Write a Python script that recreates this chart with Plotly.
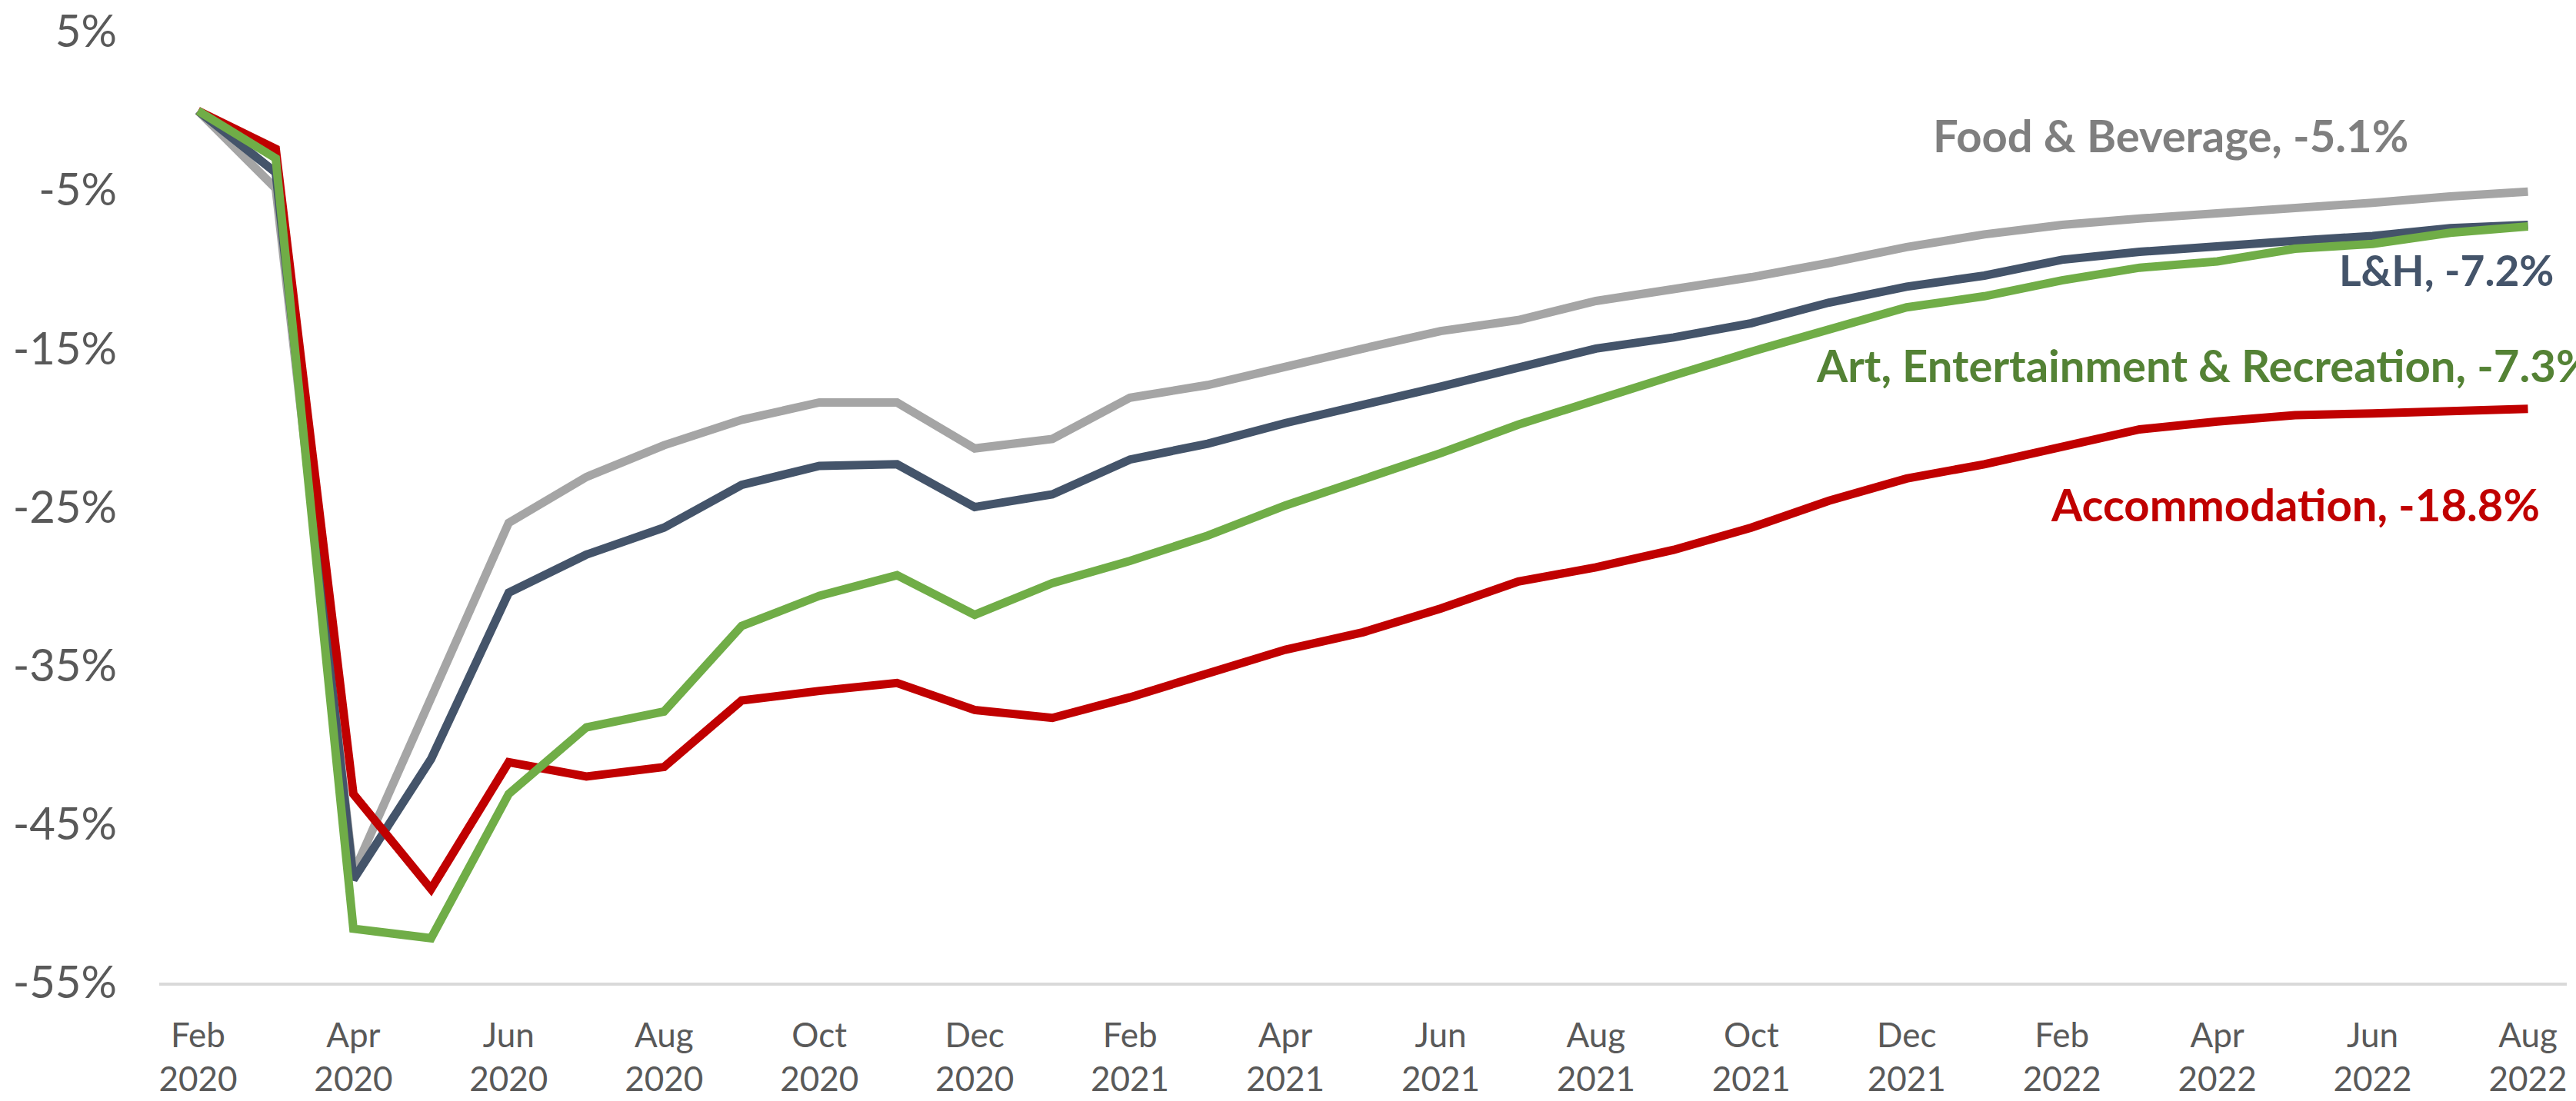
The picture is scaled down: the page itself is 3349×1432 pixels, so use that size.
import plotly.graph_objects as go

months = ["Feb 2020", "Mar 2020", "Apr 2020", "May 2020", "Jun 2020", "Jul 2020", "Aug 2020",
          "Sep 2020", "Oct 2020", "Nov 2020", "Dec 2020", "Jan 2021", "Feb 2021", "Mar 2021",
          "Apr 2021", "May 2021", "Jun 2021", "Jul 2021", "Aug 2021", "Sep 2021", "Oct 2021",
          "Nov 2021", "Dec 2021", "Jan 2022", "Feb 2022", "Mar 2022", "Apr 2022", "May 2022",
          "Jun 2022", "Jul 2022", "Aug 2022"]

food_bev = [0, -4.9, -48.1, -37.0, -26.0, -23.1, -21.1, -19.5, -18.4, -18.4, -21.3, -20.7,
            -18.1, -17.3, -16.1, -15.0, -13.9, -13.2, -12.0, -11.3, -10.5, -9.6, -8.6, -7.8,
            -7.2, -6.8, -6.5, -6.1, -5.8, -5.4, -5.1]
lh = [0, -3.9, -48.5, -40.9, -30.4, -28.0, -26.3, -23.6, -22.4, -22.3, -25.0, -24.2,
      -22.0, -21.0, -19.7, -18.6, -17.4, -16.2, -15.0, -14.3, -13.4, -12.1, -11.1, -10.4,
      -9.4, -8.9, -8.5, -8.2, -7.9, -7.4, -7.2]
art = [0, -3.0, -51.6, -52.2, -43.1, -38.9, -37.9, -32.5, -30.6, -29.3, -31.8, -29.8,
       -28.4, -26.8, -24.9, -23.3, -21.6, -19.8, -18.2, -16.7, -15.2, -13.8, -12.4, -11.7,
       -10.7, -9.9, -9.5, -8.7, -8.4, -7.7, -7.3]
accom = [0, -2.4, -43.1, -49.1, -41.1, -42.0, -41.4, -37.2, -36.6, -36.1, -37.8, -38.3,
         -37.0, -35.5, -34.0, -32.9, -31.4, -29.7, -28.8, -27.7, -26.3, -24.6, -23.2, -22.3,
         -21.2, -20.1, -19.6, -19.2, -19.1, -19.0, -18.8]

y_ticks = [5, -5, -15, -25, -35, -45, -55]
y_tick_labels = ["5%", "-5%", "-15%", "-25%", "-35%", "-45%", "-55%"]
x_tick_vals = months[::2]
x_tick_labels = [m.replace(" ", "<br>") for m in x_tick_vals]

labels = {
    "food": "Food & Beverage, -5.1%",
    "lh": "L&H, -7.2%",
    "art": "Art, Entertainment & Recreation, -7.3%",
    "accom": "Accommodation, -18.8%",
}

FONT = "Lato, 'Open Sans', sans-serif"
LW = 11

fig = go.Figure()
fig.add_trace(go.Scatter(x=months, y=food_bev, mode="lines", line=dict(color="#A5A5A5", width=LW)))
fig.add_trace(go.Scatter(x=months, y=lh, mode="lines", line=dict(color="#44546A", width=LW)))
fig.add_trace(go.Scatter(x=months, y=accom, mode="lines", line=dict(color="#C00000", width=LW)))
fig.add_trace(go.Scatter(x=months, y=art, mode="lines", line=dict(color="#70AD47", width=LW)))

L, R, T, B = 207, 12, 41, 154
W, H = 3349, 1432
PW, PH = W - L - R, H - T - B


def px(x):
    return (x - L) / PW


def py(y):
    return (H - B - y) / PH


ann_font = dict(family=FONT, size=58)
fig.add_annotation(x=px(2822), y=py(176), xref="paper", yref="paper", xanchor="center",
                   yanchor="middle", showarrow=False, text="<b>" + labels["food"] + "</b>",
                   font=dict(ann_font, color="#7F7F7F"))
fig.add_annotation(x=px(3322), y=py(351), xref="paper", yref="paper", xanchor="right",
                   yanchor="middle", showarrow=False, text="<b>" + labels["lh"] + "</b>",
                   font=dict(family=FONT, size=55, color="#44546A"))
fig.add_annotation(x=px(2359), y=py(474), xref="paper", yref="paper", xanchor="left",
                   yanchor="middle", showarrow=False, text="<b>" + labels["art"] + "</b>",
                   font=dict(ann_font, color="#548235"))
fig.add_annotation(x=px(3304), y=py(655), xref="paper", yref="paper", xanchor="right",
                   yanchor="middle", showarrow=False, text="<b>" + labels["accom"] + "</b>",
                   font=dict(ann_font, color="#C00000"))

fig.update_layout(
    width=W, height=H,
    margin=dict(l=L, r=R, t=T, b=B, autoexpand=False),
    paper_bgcolor="white", plot_bgcolor="white",
    showlegend=False,
    font=dict(family=FONT, color="#595959"),
)
fig.update_xaxes(
    type="category", categoryorder="array", categoryarray=months,
    range=[-0.5, len(months) - 0.5],
    tickmode="array", tickvals=x_tick_vals, ticktext=x_tick_labels,
    tickfont=dict(family=FONT, size=44, color="#595959"),
    showgrid=False, zeroline=False, automargin=False,
    showline=True, linecolor="#D9D9D9", linewidth=4,
    ticks="", ticklabelstandoff=27,
)
fig.update_yaxes(
    range=[-55, 5],
    tickmode="array", tickvals=y_ticks, ticktext=y_tick_labels,
    tickfont=dict(family=FONT, size=58, color="#595959"),
    showgrid=False, zeroline=False, showline=False, automargin=False,
    ticks="", ticklabelstandoff=54,
)

fig.write_html("out.html", config={"displayModeBar": False},
               post_script="document.body.style.margin='0';document.body.style.overflow='hidden';")
